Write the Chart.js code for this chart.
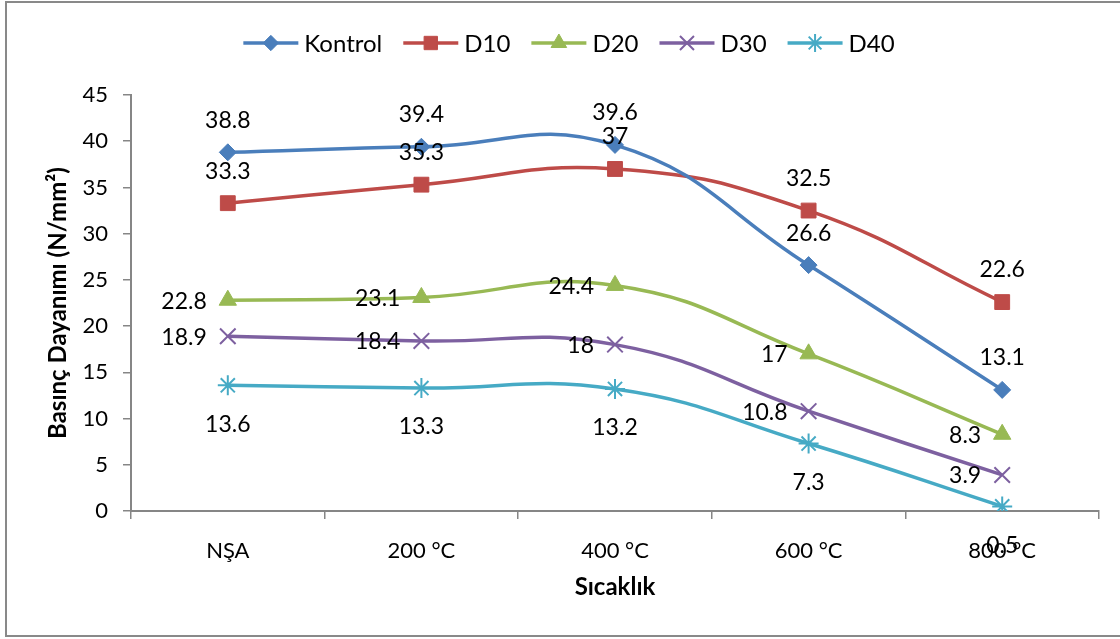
<!DOCTYPE html>
<html>
<head>
<meta charset="utf-8">
<title>Basınç Dayanımı</title>
<script src="https://cdn.jsdelivr.net/npm/chart.js@4/dist/chart.umd.min.js"></script>
<style>
  html, body { margin: 0; padding: 0; background: #ffffff; }
  canvas { display: block; }
</style>
</head>
<body>
<canvas id="chart" width="1120" height="639"></canvas>
<script>
// Compressive strength by exposure temperature
const categories = ['NŞA', '200 °C', '400 °C', '600 °C', '800 °C'];
const seriesNames = ['Kontrol', 'D10', 'D20', 'D30', 'D40'];
const kontrol = [38.8, 39.4, 39.6, 26.6, 13.1];
const d10 = [33.3, 35.3, 37, 32.5, 22.6];
const d20 = [22.8, 23.1, 24.4, 17, 8.3];
const d30 = [18.9, 18.4, 18, 10.8, 3.9];
const d40 = [13.6, 13.3, 13.2, 7.3, 0.5];
const yTicks = [0, 5, 10, 15, 20, 25, 30, 35, 40, 45];

const FONT = "Lato, 'Open Sans', sans-serif";
const colors = ['#4A7EBB', '#BE4B48', '#98B954', '#7D60A0', '#46AAC5'];
const markers = [
  { style: 'rectRot', radius: 8.5, border: 1 },
  { style: 'rect', radius: 10.5, border: 1 },
  { style: 'triangle', radius: 10, border: 1 },
  { style: 'crossRot', radius: 11, border: 2 },
  { style: 'star', radius: 10, border: 2 }
];
// where each series puts its value labels
const labelPlace = ['top', 'top', 'left', 'left', 'bottom'];
const values = [kontrol, d10, d20, d30, d40];

const datasets = values.map((v, i) => ({
  label: seriesNames[i],
  data: v,
  borderColor: colors[i],
  backgroundColor: colors[i],
  borderWidth: 3.5,
  tension: 0.45,
  pointStyle: markers[i].style,
  pointRadius: markers[i].radius,
  pointHoverRadius: markers[i].radius,
  pointBorderWidth: markers[i].border,
  pointBackgroundColor: colors[i],
  pointBorderColor: colors[i],
  fill: false
}));

function drawMarker(ctx, style, r, x, y, color, bw) {
  if (Chart.helpers && Chart.helpers.drawPoint) {
    ctx.save();
    ctx.fillStyle = color;
    ctx.strokeStyle = color;
    ctx.lineWidth = bw;
    Chart.helpers.drawPoint(ctx, { pointStyle: style, radius: r, borderWidth: bw, rotation: 0 }, x, y);
    ctx.restore();
  }
}

const frame = {
  id: 'frame',
  beforeDraw(chart) {
    const ctx = chart.ctx;
    ctx.save();
    ctx.fillStyle = '#ffffff';
    ctx.fillRect(0, 0, chart.width, chart.height);
    ctx.strokeStyle = '#898989';
    ctx.lineWidth = 2;
    ctx.strokeRect(6, 2, chart.width + 20, 634);
    ctx.restore();
  }
};

const seriesLegend = {
  id: 'seriesLegend',
  afterDraw(chart) {
    const ctx = chart.ctx;
    ctx.save();
    ctx.font = '24px ' + FONT;
    ctx.textBaseline = 'middle';
    const lineLen = 55, textGap = 6, itemGap = 21;
    const widths = seriesNames.map(n => ctx.measureText(n).width);
    const total = widths.reduce((a, w) => a + lineLen + textGap + w, 0) + itemGap * (seriesNames.length - 1);
    let x = 569 - total / 2;
    const y = 43;
    seriesNames.forEach((name, i) => {
      ctx.strokeStyle = colors[i];
      ctx.lineWidth = 3.5;
      ctx.beginPath();
      ctx.moveTo(x, y);
      ctx.lineTo(x + lineLen, y);
      ctx.stroke();
      drawMarker(ctx, markers[i].style, markers[i].radius * 0.9, x + lineLen / 2, y, colors[i], markers[i].border);
      ctx.fillStyle = '#000000';
      ctx.textAlign = 'left';
      ctx.fillText(name, x + lineLen + textGap, y + 1);
      x += lineLen + textGap + widths[i] + itemGap;
    });
    ctx.restore();
  }
};

const valueLabels = {
  id: 'valueLabels',
  afterDatasetsDraw(chart) {
    const ctx = chart.ctx;
    ctx.save();
    ctx.font = '23px ' + FONT;
    ctx.fillStyle = '#000000';
    chart.data.datasets.forEach((ds, i) => {
      const meta = chart.getDatasetMeta(i);
      meta.data.forEach((pt, j) => {
        const txt = String(ds.data[j]);
        const place = labelPlace[i];
        if (place === 'top') {
          ctx.textAlign = 'center'; ctx.textBaseline = 'middle';
          ctx.fillText(txt, pt.x, pt.y - 32);
        } else if (place === 'bottom') {
          ctx.textAlign = 'center'; ctx.textBaseline = 'middle';
          ctx.fillText(txt, pt.x, pt.y + 39);
        } else {
          ctx.textAlign = 'right'; ctx.textBaseline = 'middle';
          ctx.fillText(txt, pt.x - 21, pt.y + 1);
        }
      });
    });
    ctx.restore();
  }
};

new Chart(document.getElementById('chart'), {
  type: 'line',
  data: { labels: categories, datasets },
  options: {
    responsive: false,
    animation: false,
    events: [],
    layout: { padding: { top: 95, bottom: 37, left: 0, right: 21 } },
    plugins: {
      legend: { display: false },
      tooltip: { enabled: false }
    },
    scales: {
      x: {
        type: 'category',
        offset: true,
        afterFit(scale) { scale.height = 91; },
        grid: { offset: true, drawOnChartArea: false, drawTicks: true, tickLength: 8, color: '#868686', lineWidth: 1.5 },
        border: { color: '#868686', width: 2 },
        ticks: { color: '#000000', font: { family: FONT, size: 22 }, padding: 19, maxRotation: 0 },
        title: { display: true, text: 'Sıcaklık', color: '#000000', font: { family: FONT, size: 24, weight: 'bold' }, padding: { top: 0, bottom: 0 } }
      },
      y: {
        min: 0,
        max: 45,
        afterFit(scale) { scale.width = 131; },
        afterBuildTicks(scale) { scale.ticks = yTicks.map(v => ({ value: v })); },
        grid: { drawOnChartArea: false, drawTicks: true, tickLength: 8, color: '#868686', lineWidth: 1.5 },
        border: { color: '#868686', width: 2 },
        ticks: { color: '#000000', font: { family: FONT, size: 22 }, padding: 15 },
        title: { display: true, text: 'Basınç Dayanımı (N/mm²)', color: '#000000', font: { family: FONT, size: 24, weight: 'bold' }, padding: { top: 44, bottom: 0 } }
      }
    }
  },
  plugins: [frame, seriesLegend, valueLabels]
});
</script>
</body>
</html>
